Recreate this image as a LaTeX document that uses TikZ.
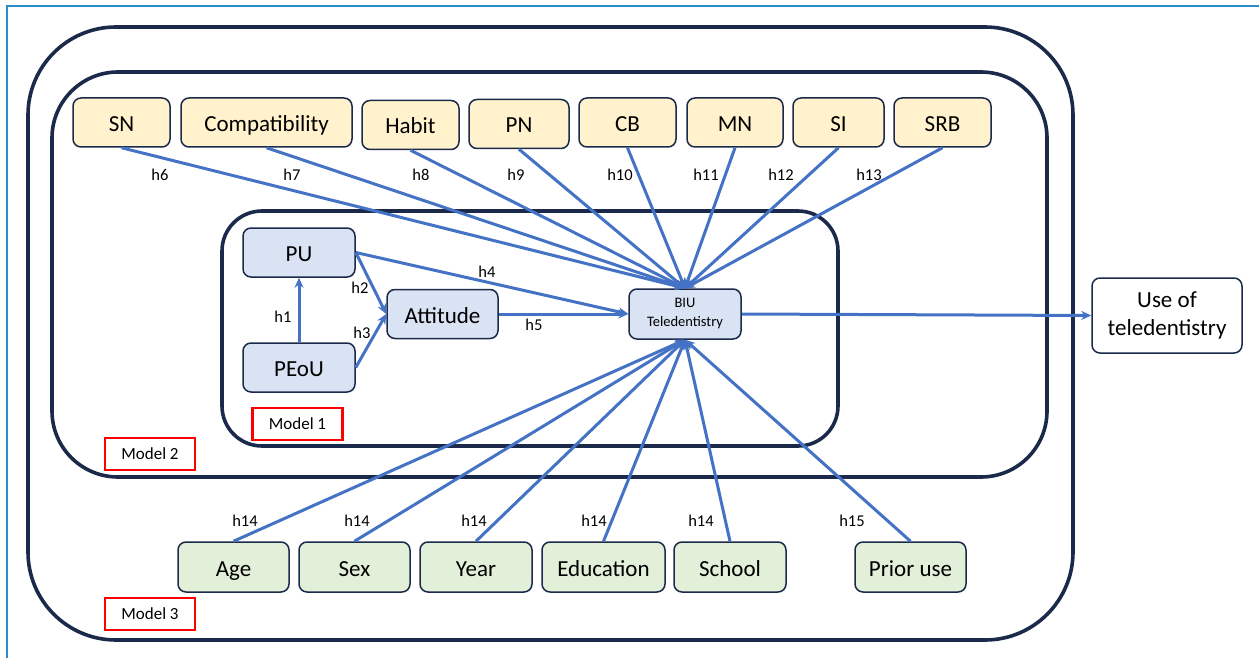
\documentclass[tikz,border=0pt]{standalone}
\usepackage{fontspec}
\setmainfont{Carlito}
\usetikzlibrary{arrows.meta}
\definecolor{navy}{HTML}{1B2A4A}
\definecolor{bline}{HTML}{4472C4}
\definecolor{yfill}{HTML}{FFF2CC}
\definecolor{bfill}{HTML}{DAE3F3}
\definecolor{gfill}{HTML}{E2F0D9}
\definecolor{framec}{HTML}{2A8CC8}
\tikzset{
  box/.style={draw=navy, line width=1.5pt, rounded corners=8pt, inner sep=0pt, font=\fontsize{23}{27}\selectfont},
  sbox/.style={box, text height=18pt, text depth=0pt},
  ybox/.style={sbox, fill=yfill, minimum height=49pt},
  bbox/.style={sbox, fill=bfill, minimum height=49pt},
  gbox/.style={sbox, fill=gfill, minimum height=50pt},
  cont/.style={draw=navy, line width=3.6pt},
  arr/.style={draw=bline, line width=3pt, -{Stealth[length=10pt,width=9pt]}},
  hl/.style={font=\fontsize{16.5}{19}\selectfont, inner sep=0pt},
  mlabel/.style={draw=red, line width=2.4pt, inner sep=0pt, font=\fontsize{17}{20}\selectfont, minimum width=90pt, minimum height=32pt},
}
\begin{document}
\begin{tikzpicture}[x=1pt,y=-1pt]
\useasboundingbox (0,0) rectangle (1259,658);
\draw[framec, line width=1.8pt] (7,658) -- (7,6) -- (1259,6);
% containers
\draw[cont, rounded corners=88pt] (28,27) rectangle (1073,640);
\draw[cont, rounded corners=66pt] (52,72) rectangle (1047,477);
\draw[cont, rounded corners=40pt] (222,211) rectangle (838,446);
% top boxes
\node[ybox, minimum width=97pt] (SN) at (121.5,122.5) {SN};
\node[ybox, minimum width=171pt] (Comp) at (266.5,122.5) {Compatibility};
\node[ybox, minimum width=97pt] (Habit) at (410.5,125) {Habit};
\node[ybox, minimum width=100pt] (PN) at (519,124) {PN};
\node[ybox, minimum width=97pt] (CB) at (627.5,122.5) {CB};
\node[ybox, minimum width=96pt] (MN) at (735,122.5) {MN};
\node[ybox, minimum width=91pt] (SI) at (838.5,122.5) {SI};
\node[ybox, minimum width=97pt] (SRB) at (942.5,122.5) {SRB};
% model 1 boxes
\node[bbox, minimum width=112pt] (PU) at (299,252.5) {PU};
\node[bbox, minimum width=112pt] (PEoU) at (299,367.5) {PEoU};
\node[bbox, minimum width=111pt] (Att) at (442.5,314) {Attitude};
\node[box, fill=bfill, minimum width=112pt, minimum height=50pt, align=center, font=\fontsize{14.5}{19}\selectfont] (BIU) at (685,314) {BIU\\Teledentistry};
\node[box, fill=white, minimum width=150pt, minimum height=75pt, align=center, font=\fontsize{23}{28}\selectfont] (Use) at (1167,315.5) {Use of\\teledentistry};
% bottom boxes
\node[gbox, minimum width=111pt] (Age) at (233.5,567) {Age};
\node[gbox, minimum width=111pt] (Sex) at (354.5,567) {Sex};
\node[gbox, minimum width=112pt] (Year) at (476,567) {Year};
\node[gbox, minimum width=123pt] (Edu) at (603.5,567) {Education};
\node[gbox, minimum width=112pt] (School) at (730,567) {School};
\node[gbox, minimum width=111pt] (Prior) at (910.5,567) {Prior use};
% model labels
\node[mlabel] (M1) at (297.5,424) {Model 1};
\node[mlabel] (M2) at (150,454) {Model 2};
\node[mlabel] (M3) at (150,614) {Model 3};
% arrows to BIU top
\foreach \n in {SN,Comp,Habit,PN,CB,MN,SI,SRB}{
  \draw[arr] (\n.south) -- (BIU.north);
}
\foreach \n in {Age,Sex,Year,Edu,School,Prior}{
  \draw[arr] (\n.north) -- (BIU.south);
}
\draw[arr] (PEoU.north) -- (PU.south);
\draw[arr] (PU.east) -- (Att.west);
\draw[arr] (PEoU.east) -- (Att.west);
\draw[arr] (PU.east) -- (BIU.west);
\draw[arr] (Att.east) -- (BIU.west);
\draw[arr] (BIU.east) -- (Use.west);
% labels
\node[hl] (h6) at (160,175) {h6};
\node[hl] (h7) at (292,175) {h7};
\node[hl] (h8) at (421,175) {h8};
\node[hl] (h9) at (516,175) {h9};
\node[hl] (h10) at (620,175) {h10};
\node[hl] (h11) at (706,175) {h11};
\node[hl] (h12) at (781,175) {h12};
\node[hl] (h13) at (869,175) {h13};
\node[hl] (h1) at (283,317) {h1};
\node[hl] (h2) at (360,288) {h2};
\node[hl] (h3) at (362,333) {h3};
\node[hl] (h4) at (487,272) {h4};
\node[hl] (h5) at (534,325) {h5};
\node[hl] (h14a) at (245,521) {h14};
\node[hl] (h14b) at (357,521) {h14};
\node[hl] (h14c) at (474,521) {h14};
\node[hl] (h14d) at (594,521) {h14};
\node[hl] (h14e) at (701,521) {h14};
\node[hl] (h15) at (852,521) {h15};
\end{tikzpicture}
\end{document}
